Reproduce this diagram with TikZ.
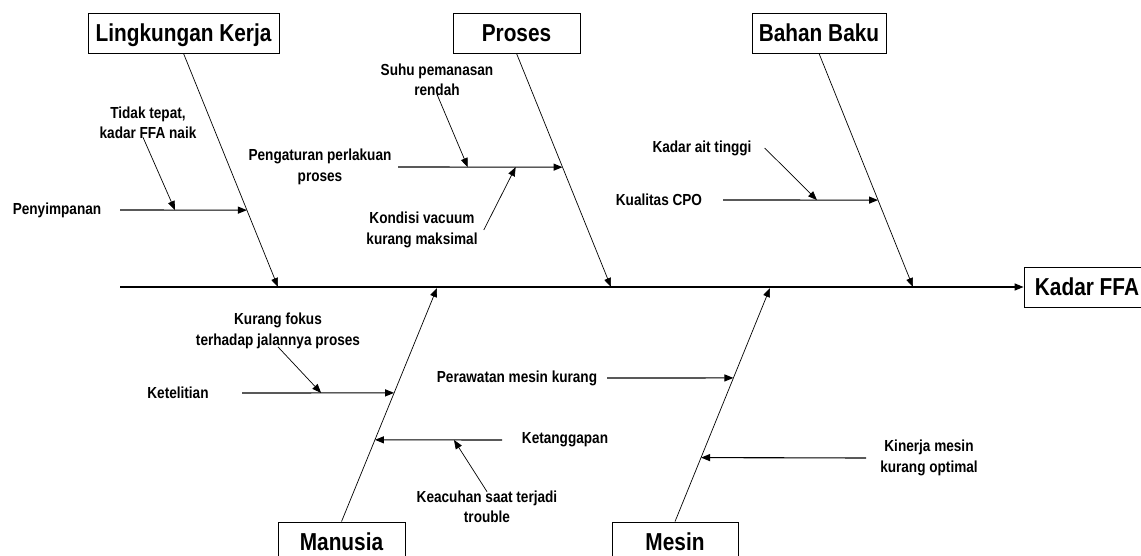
\documentclass[tikz,border=0pt]{standalone}
\usepackage{fontspec}
\setmainfont{Liberation Sans}[FakeStretch=0.85]
\usetikzlibrary{positioning, calc, arrows.meta}

\begin{document}
\begin{tikzpicture}[x=1pt, y=-1pt,
        kotak/.style={draw, line width=0.8pt, inner sep=0pt, text height=17.5pt, text depth=0pt,
            minimum height=40pt, font=\fontsize{24.5}{28}\selectfont\bfseries},
        ket/.style={inner sep=2pt, align=center, font=\fontsize{16}{20.5}\selectfont\bfseries},
        panah/.style={-{Triangle[length=9pt,width=7pt]}, line width=1.1pt},
        tulang/.style={-{Triangle[length=9pt,width=7pt]}, line width=0.7pt}]
    \useasboundingbox (0,0) rectangle (1141,556);
    \clip (0,0) rectangle (1141,556);

    % kotak penyebab
    \node[kotak, minimum width=191pt] (lingkungan) at (183.5,33) {Lingkungan Kerja};
    \node[kotak, minimum width=127pt] (proses) at (516.5,33) {Proses};
    \node[kotak, minimum width=134pt] (bahan) at (819,33) {Bahan Baku};
    \node[kotak, minimum width=127pt] (manusia) at (341.5,542) {Manusia};
    \node[kotak, minimum width=126pt] (mesin) at (675,542) {Mesin};
    \node[kotak, minimum width=126pt] (kadar) at (1087,287) {Kadar FFA};

    % tulang utama
    \coordinate (ekor) at (120,287);
    \draw[panah, line width=1.3pt] (ekor) -- (kadar.west);

    % tulang miring
    \coordinate (lkE) at (278,287);
    \coordinate (prE) at (611,287);
    \coordinate (bbE) at (913,287);
    \coordinate (mnE) at (437,288);
    \coordinate (msE) at (770,288);
    \draw[tulang] (lingkungan.south) -- (lkE) coordinate[pos=0.671] (lk1);
    \draw[tulang] (proses.south) -- (prE) coordinate[pos=0.487] (pr1);
    \draw[tulang] (bahan.south) -- (bbE) coordinate[pos=0.628] (bb1);
    \draw[tulang] (manusia.north) -- (mnE) coordinate[pos=0.551] (mn1) coordinate[pos=0.350] (mn2);
    \draw[tulang] (mesin.north) -- (msE) coordinate[pos=0.615] (ms1) coordinate[pos=0.274] (ms2);

    % keterangan
    \node[ket] (tidak) at (148,123) {Tidak tepat,\\kadar FFA naik};
    \node[ket] (penyimpanan) at (57,210) {Penyimpanan};
    \node[ket] (suhu) at (437,80) {Suhu pemanasan\\rendah};
    \node[ket] (pengaturan) at (320,167) {Pengaturan perlakuan\\proses};
    \node[ket] (kondisi) at (422,230) {Kondisi vacuum\\kurang maksimal};
    \node[ket] (kadarait) at (702,148) {Kadar ait tinggi};
    \node[ket] (kualitas) at (659,200) {Kualitas CPO};
    \node[ket] (kurang) at (278,331) {Kurang fokus\\terhadap jalannya proses};
    \node[ket] (ketelitian) at (178,393) {Ketelitian};
    \node[ket] (ketanggapan) at (565,440) {Ketanggapan};
    \node[ket] (keacuhan) at (487,507) {Keacuhan saat terjadi\\trouble};
    \node[ket] (perawatan) at (517,378) {Perawatan mesin kurang};
    \node[ket] (kinerja) at (929,458) {Kinerja mesin\\kurang optimal};

    % cabang
    \draw[panah] (120,210) coordinate (c1) -- (lk1) coordinate[pos=0.433] (c1a);
    \draw[panah] (398,167) coordinate (c2) -- (pr1) coordinate[pos=0.424] (c2a) coordinate[pos=0.715] (c2b);
    \draw[panah] (723,200) coordinate (c3) -- (bb1) coordinate[pos=0.606] (c3a);
    \draw[panah] (242,393) coordinate (c4) -- (mn1) coordinate[pos=0.52] (c4a);
    \draw[panah] (502,440) coordinate (c5) -- (mn2) coordinate[pos=0.378] (c5a);
    \draw[panah] (607,378) coordinate (c6) -- (ms1);
    \draw[panah] (866,458) coordinate (c7) -- (ms2);

    % anak cabang
    \draw[tulang] ([xshift=-5pt,yshift=4pt]tidak.south) -- (c1a);
    \draw[tulang] ([yshift=4pt]suhu.south) -- (c2a);
    \draw[tulang] ([xshift=4pt]kondisi.east) -- (c2b);
    \draw[tulang] ([xshift=11pt]kadarait.east) -- (c3a);
    \draw[tulang] ([yshift=4pt]kurang.south) -- (c4a);
    \draw[tulang] ([yshift=-3pt]keacuhan.north) -- (c5a);
\end{tikzpicture}
\end{document}
